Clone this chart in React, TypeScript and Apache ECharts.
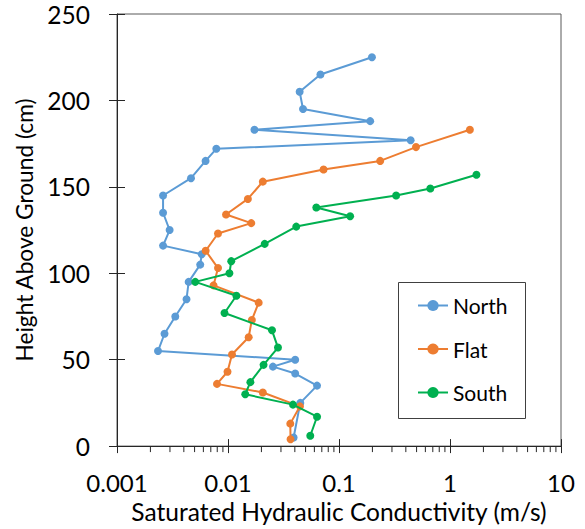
import React, { useEffect, useRef } from "react";
import * as echarts from "echarts";

const seriesNames = ["North", "Flat", "South"];
const seriesColors = ["#5B9BD5", "#ED7D31", "#00B050"];

const northK = [0.198, 0.068, 0.0442, 0.0474, 0.191, 0.0173, 0.442, 0.00785, 0.00628, 0.00464, 0.0026, 0.0026, 0.00298, 0.0026, 0.0058, 0.00562, 0.00442, 0.00423, 0.00335, 0.00268, 0.00234, 0.0403, 0.0254, 0.0403, 0.0634, 0.0448, 0.039];
const northH = [225, 215, 205, 195, 188, 183, 177, 172, 165, 155, 145, 135, 125, 116, 111, 105, 95, 85, 75, 65, 55, 50, 46, 42, 35, 25, 5];

const flatK = [1.51, 0.494, 0.235, 0.0726, 0.0206, 0.0151, 0.0096, 0.0162, 0.00813, 0.00629, 0.00813, 0.00741, 0.0189, 0.0164, 0.01535, 0.01086, 0.0099, 0.00796, 0.0206, 0.0445, 0.0364, 0.0366];
const flatH = [183, 173, 165, 160, 153, 143, 134, 129, 123, 113, 103, 93, 83, 73, 63, 53, 43, 36, 31, 23, 13, 4];

const southK = [1.73, 0.665, 0.327, 0.0625, 0.126, 0.0412, 0.0214, 0.0107, 0.0103, 0.00507, 0.0119, 0.0093, 0.0249, 0.0282, 0.0209, 0.0159, 0.0143, 0.0385, 0.0634, 0.0551];
const southH = [157, 149, 145, 138, 133, 127, 117, 107, 100, 95, 87, 77, 67, 57, 47, 37, 30, 24, 17, 6];

const xTickLabels = ["0.001", "0.01", "0.1", "1", "10"];
const xMinorTicks = [
  0.002, 0.003, 0.004, 0.005, 0.006, 0.007, 0.008, 0.009,
  0.02, 0.03, 0.04, 0.05, 0.06, 0.07, 0.08, 0.09,
  0.2, 0.3, 0.4, 0.5, 0.6, 0.7, 0.8, 0.9,
  2, 3, 4, 5, 6, 7, 8, 9,
];

const FONT = "Lato";
const AXIS_COLOR = "#262626";

function zip(xs: number[], ys: number[]) {
  return xs.map((x, i) => [x, ys[i]]);
}

export default function App() {
  const ref = useRef<HTMLDivElement>(null);
  useEffect(() => {
    if (!ref.current) return;
    const chart = echarts.init(ref.current, null, { renderer: "svg" });
    const xLabelFormatter = (v: number) => {
      const idx = Math.round(Math.log10(v)) + 3;
      return xTickLabels[idx] ?? "";
    };
    const dataSets = [zip(northK, northH), zip(flatK, flatH), zip(southK, southH)];
    const lineSeries = seriesNames.map((name, i) => ({
      name,
      type: "line",
      xAxisIndex: 0,
      yAxisIndex: 0,
      data: dataSets[i],
      symbol: "circle",
      symbolSize: 8,
      showSymbol: true,
      lineStyle: { color: seriesColors[i], width: 2 },
      itemStyle: { color: seriesColors[i] },
      z: 3 + i,
    }));
    const option: any = {
      animation: false,
      backgroundColor: "#ffffff",
      grid: {
        left: 117,
        top: 14,
        right: 24,
        bottom: 80,
        show: true,
        borderColor: "#595959",
        borderWidth: 1,
        backgroundColor: "transparent",
      },
      xAxis: [
        {
          type: "log",
          logBase: 10,
          min: 0.001,
          max: 10,
          position: "bottom",
          name: "Saturated Hydraulic Conductivity (m/s)",
          nameLocation: "middle",
          nameGap: 49,
          nameTextStyle: { fontFamily: FONT, fontSize: 24.5, color: "#000" },
          axisLine: { show: true, lineStyle: { color: AXIS_COLOR, width: 1 } },
          axisTick: { show: true, inside: false, length: 7, lineStyle: { color: AXIS_COLOR } },
          axisLabel: { fontFamily: FONT, fontSize: 24, color: "#000", margin: 24, formatter: xLabelFormatter },
          splitLine: { show: false },
          minorTick: { show: false },
        },
        {
          type: "log",
          logBase: 10,
          min: 0.001,
          max: 10,
          position: "bottom",
          axisLine: { show: false },
          axisTick: { show: true, inside: true, length: 7, lineStyle: { color: AXIS_COLOR } },
          axisLabel: { show: false },
          splitLine: { show: false },
        },
      ],
      yAxis: [
        {
          type: "value",
          min: 0,
          max: 250,
          interval: 50,
          position: "left",
          name: "Height Above Ground (cm)",
          nameLocation: "middle",
          nameRotate: 90,
          nameGap: 76,
          nameTextStyle: { fontFamily: FONT, fontSize: 22.7, color: "#000" },
          axisLine: { show: true, lineStyle: { color: AXIS_COLOR, width: 1 } },
          axisTick: { show: true, inside: false, length: 8, lineStyle: { color: AXIS_COLOR } },
          axisLabel: { fontFamily: FONT, fontSize: 24.5, color: "#000", margin: 27 },
          splitLine: { show: false },
        },
        {
          type: "value",
          min: 0,
          max: 250,
          interval: 50,
          position: "left",
          axisLine: { show: false },
          axisTick: { show: true, inside: true, length: 8, lineStyle: { color: AXIS_COLOR } },
          axisLabel: { show: false },
          splitLine: { show: false },
        },
      ],
      legend: {
        data: seriesNames,
        orient: "vertical",
        left: 417,
        top: 295,
        padding: 0,
        itemWidth: 30,
        itemHeight: 14,
        itemGap: 22.5,
        textStyle: { fontFamily: FONT, fontSize: 21, color: "#000" },
      },
      graphic: [
        {
          type: "rect",
          left: 398,
          top: 282,
          shape: { width: 127, height: 136 },
          style: { fill: "#ffffff", stroke: "#404040", lineWidth: 1 },
          z: 1,
        },
      ],
      series: [
        ...lineSeries,
        {
          type: "custom",
          name: "minorTicks",
          xAxisIndex: 0,
          yAxisIndex: 0,
          clip: false,
          silent: true,
          data: xMinorTicks.map((v) => [v, 0]),
          renderItem: (params: any, api: any) => {
            const p = api.coord([api.value(0), 0]);
            return {
              type: "line",
              shape: { x1: p[0], y1: p[1], x2: p[0], y2: p[1] + 6 },
              style: { stroke: AXIS_COLOR, lineWidth: 1 },
            };
          },
          z: 10,
        },
      ],
    };
    chart.setOption(option);
    return () => chart.dispose();
  }, []);
  return (
    <div
      ref={ref}
      style={{ position: "fixed", left: 0, top: 0, width: 585, height: 529 }}
    />
  );
}
